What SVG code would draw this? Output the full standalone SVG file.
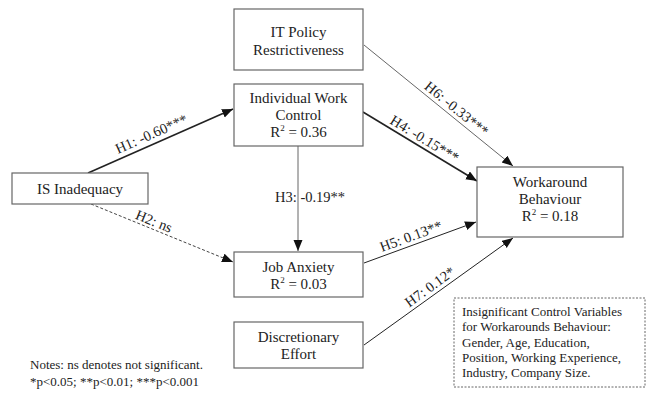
<svg xmlns="http://www.w3.org/2000/svg" width="646" height="393" viewBox="0 0 646 393">
<style>
text{font-family:"Liberation Serif","Times New Roman",serif;fill:#222}
.n{font-size:15px;text-anchor:middle}
.l{font-size:14.5px;text-anchor:middle}
.s{font-size:13px}
.box{fill:#fff;stroke:#666;stroke-width:1.2}
.c{fill:none;stroke:#222;stroke-width:1}
.b{stroke-width:1.6}
.t{stroke:#555;stroke-width:0.9}
.d{stroke-dasharray:3,2;stroke:#444}
sup{}
</style>
<defs>
<marker id="ah" markerUnits="userSpaceOnUse" markerWidth="12" markerHeight="10" refX="11" refY="4.5" orient="auto">
<path d="M0,0 L11,4.5 L0,9 Z" fill="#111"/>
</marker>
</defs>
<rect width="646" height="393" fill="#fff"/>
<g id="connectors">
<line class="c b" x1="88" y1="173" x2="233" y2="109" marker-end="url(#ah)"/>
<line class="c d" x1="91" y1="204" x2="233" y2="262" marker-end="url(#ah)"/>
<line class="c t" x1="298" y1="146" x2="298" y2="251" marker-end="url(#ah)"/>
<line class="c b" x1="363" y1="112" x2="477" y2="181" marker-end="url(#ah)"/>
<line class="c t" x1="364" y1="45" x2="513" y2="166" marker-end="url(#ah)"/>
<line class="c" x1="364" y1="263" x2="476" y2="222" marker-end="url(#ah)"/>
<line class="c" x1="364" y1="345" x2="513" y2="238" marker-end="url(#ah)"/>
<text class="l" transform="translate(155,142) rotate(-23.8)" y="-4">H1: -0.60***</text>
<text class="l" transform="translate(151,228.5) rotate(22.2)" y="-3">H2: ns</text>
<text class="l" x="275" y="202" style="text-anchor:start">H3: -0.19**</text>
<text class="l" transform="translate(420,146.5) rotate(31.2)" y="-4">H4: -0.15***</text>
<text class="l" transform="translate(451,115.6) rotate(39.1)" y="-4">H6: -0.33***</text>
<text class="l" transform="translate(414,244.5) rotate(-20.4)" y="-4">H5: 0.13**</text>
<text class="l" transform="translate(435,294) rotate(-35.9)" y="-4">H7: 0.12*</text>
</g>
<g id="it-policy">
<rect class="box" x="234" y="9" width="129" height="61"/>
<text class="n" x="298.5" y="37">IT Policy</text>
<text class="n" x="298.5" y="55">Restrictiveness</text>
</g>
<g id="iwc">
<rect class="box" x="234" y="84" width="129" height="62"/>
<text class="n" x="298.5" y="103">Individual Work</text>
<text class="n" x="298.5" y="120">Control</text>
<text class="n" x="298.5" y="137">R<tspan font-size="9" dy="-6">2</tspan><tspan dy="6"> = 0.36</tspan></text>
</g>
<g id="is-inadequacy">
<rect class="box" x="12" y="173" width="136" height="31"/>
<text class="n" x="80" y="194">IS Inadequacy</text>
</g>
<g id="job-anxiety">
<rect class="box" x="234" y="252" width="129" height="45"/>
<text class="n" x="298.5" y="272">Job Anxiety</text>
<text class="n" x="298.5" y="289">R<tspan font-size="9" dy="-6">2</tspan><tspan dy="6"> = 0.03</tspan></text>
</g>
<g id="discretionary-effort">
<rect class="box" x="234" y="322" width="129" height="46"/>
<text class="n" x="298.5" y="342">Discretionary</text>
<text class="n" x="298.5" y="359">Effort</text>
</g>
<g id="workaround">
<rect class="box" x="477" y="167" width="146" height="70"/>
<text class="n" x="550" y="187">Workaround</text>
<text class="n" x="550" y="204">Behaviour</text>
<text class="n" x="550" y="221">R<tspan font-size="9" dy="-6">2</tspan><tspan dy="6"> = 0.18</tspan></text>
</g>
<g id="controls">
<rect x="454" y="298" width="191" height="89" fill="#fff" stroke="#666" stroke-width="1" stroke-dasharray="2,1.5"/>
<text class="s" x="462" y="316">Insignificant Control Variables</text>
<text class="s" x="462" y="331">for Workarounds Behaviour:</text>
<text class="s" x="462" y="347">Gender, Age, Education,</text>
<text class="s" x="462" y="362">Position, Working Experience,</text>
<text class="s" x="462" y="377">Industry, Company Size.</text>
</g>
<g id="notes">
<text class="s" x="30" y="369">Notes: ns denotes not significant.</text>
<text class="s" x="30" y="386">*p&lt;0.05; **p&lt;0.01; ***p&lt;0.001</text>
</g>
</svg>
